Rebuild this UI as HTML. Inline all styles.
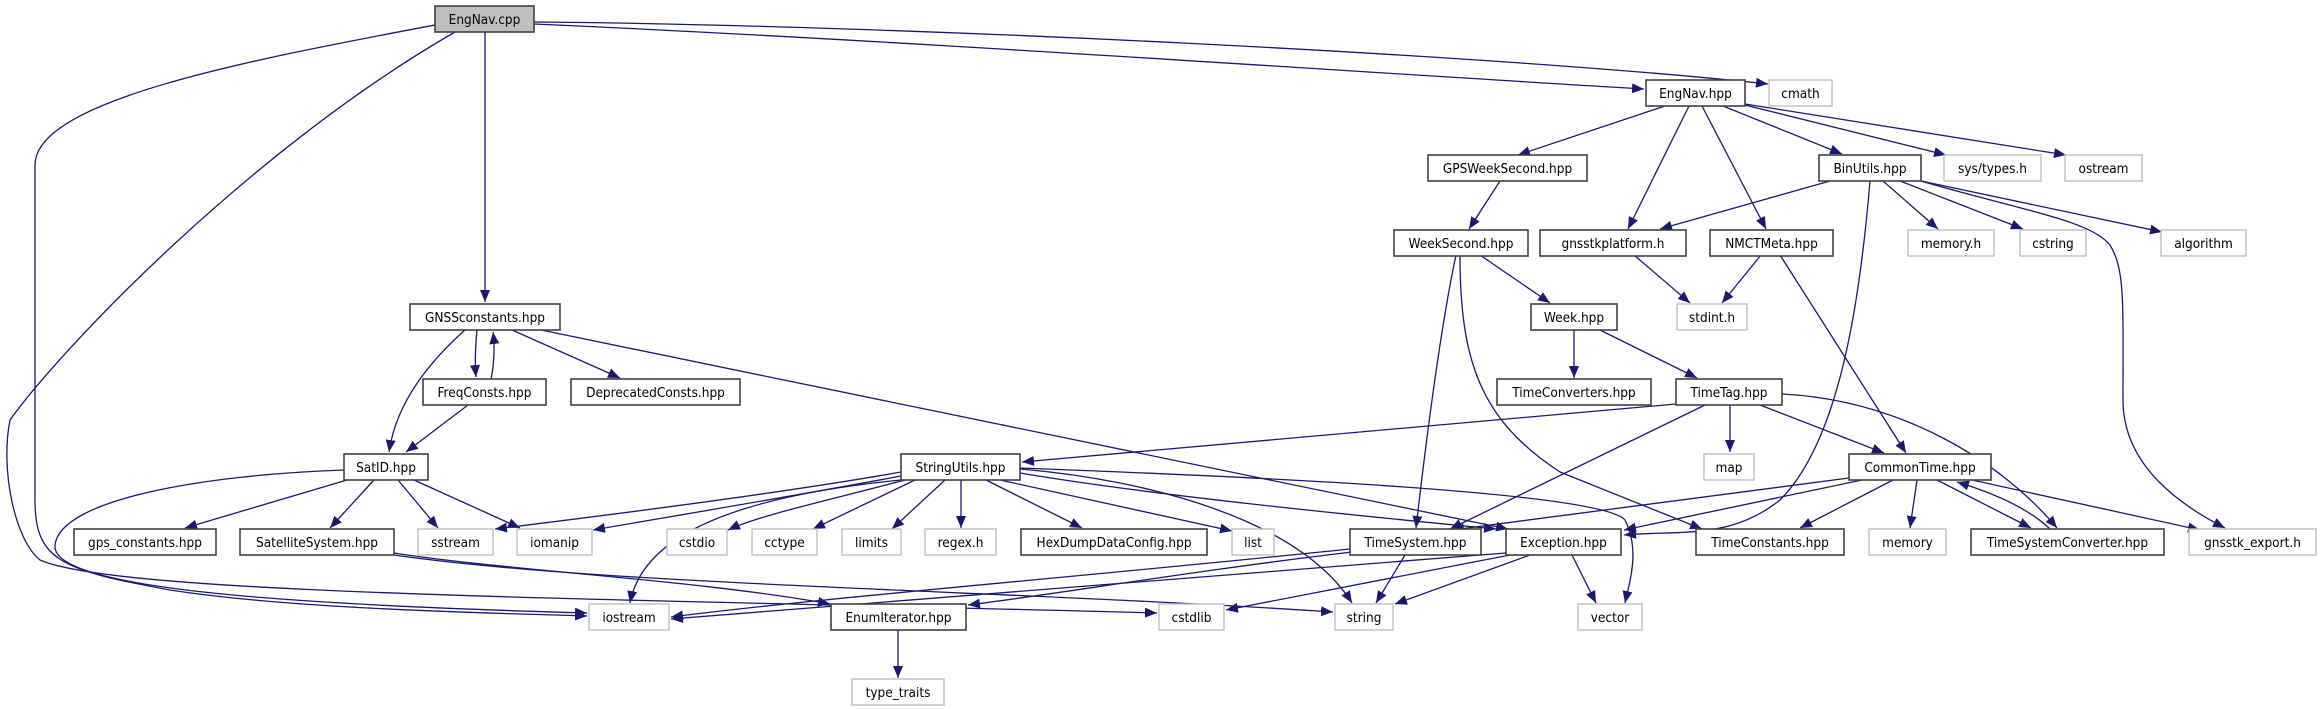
<!DOCTYPE html>
<html><head><meta charset="utf-8"><style>
html,body{margin:0;padding:0;background:#fff;}
svg{display:block;}
text{font-family:"DejaVu Sans Condensed","Liberation Sans",sans-serif;font-size:13.5px;text-anchor:middle;fill:#000;}
.b{fill:#fff;stroke:#404040;stroke-width:1.6;}
.g{fill:#fff;stroke:#bfbfbf;stroke-width:1.4;}
.e{fill:none;stroke:#191970;stroke-width:1.3;marker-end:url(#a);}
</style></head><body>
<svg width="2322" height="709" viewBox="0 0 2322 709" xmlns="http://www.w3.org/2000/svg">
<defs><marker id="a" markerUnits="userSpaceOnUse" markerWidth="14" markerHeight="10" refX="12" refY="5" orient="auto"><path d="M0,0 L12,5 L0,10 Z" fill="#191970"/></marker></defs>
<path class="e" d="M534,22 C900,25 1500,55 1768,84"/>
<path class="e" d="M534,24 C900,40 1400,75 1644,89"/>
<path class="e" d="M485,32 L485,302"/>
<path class="e" d="M435,25 C250,60 35,100 35,165 L35,500 C35,560 60,570 170,590 C300,610 500,613 587,616"/>
<path class="e" d="M455,32 C250,150 60,350 10,420 C0,470 15,540 40,560 C120,595 600,598 1157,613"/>
<path class="e" d="M465,330 C420,370 395,410 389,452"/>
<path class="e" d="M477,330 C475,350 475,365 476,377"/>
<path class="e" d="M491,379 C494,365 495,350 493,332"/>
<path class="e" d="M512,330 L620,378"/>
<path class="e" d="M541,330 L1508,529"/>
<path class="e" d="M468,405 L406,452"/>
<path class="e" d="M347,480 L185,528"/>
<path class="e" d="M374,480 L330,528"/>
<path class="e" d="M398,480 L438,528"/>
<path class="e" d="M414,480 L520,528"/>
<path class="e" d="M344,470 C200,475 60,500 55,545 C50,590 300,605 587,613"/>
<path class="e" d="M394,553 C500,570 700,580 830,604"/>
<path class="e" d="M394,555 C600,585 1000,590 1333,612"/>
<path class="e" d="M901,472 C800,490 650,510 495,529"/>
<path class="e" d="M901,476 C800,495 680,515 593,530"/>
<path class="e" d="M905,480 C830,500 760,515 728,530"/>
<path class="e" d="M915,480 L813,529"/>
<path class="e" d="M945,480 L892,529"/>
<path class="e" d="M961,480 L961,528"/>
<path class="e" d="M986,480 L1082,528"/>
<path class="e" d="M1000,480 L1232,531"/>
<path class="e" d="M1020,473 C1150,495 1350,515 1496,529"/>
<path class="e" d="M1020,469 C1150,480 1300,520 1352,603"/>
<path class="e" d="M1020,468 C1200,475 1600,490 1625,520 C1640,550 1630,580 1625,603"/>
<path class="e" d="M901,480 C700,500 640,550 630,603"/>
<path class="e" d="M1676,404 L1022,462"/>
<path class="e" d="M1705,405 L1450,529"/>
<path class="e" d="M1730,405 L1730,452"/>
<path class="e" d="M1760,405 L1884,453"/>
<path class="e" d="M1782,394 C1900,400 2000,460 2057,528"/>
<path class="e" d="M1456,255 C1440,330 1425,450 1416,528"/>
<path class="e" d="M1460,255 C1460,360 1480,420 1560,472 L1702,529"/>
<path class="e" d="M1480,255 L1550,303"/>
<path class="e" d="M1500,181 L1469,229"/>
<path class="e" d="M1574,330 L1574,378"/>
<path class="e" d="M1600,330 L1697,378"/>
<path class="e" d="M1665,106 L1518,155"/>
<path class="e" d="M1689,106 L1628,229"/>
<path class="e" d="M1702,106 L1766,229"/>
<path class="e" d="M1723,106 L1842,154"/>
<path class="e" d="M1745,105 L1946,155"/>
<path class="e" d="M1745,104 L2066,155"/>
<path class="e" d="M1830,181 L1660,229"/>
<path class="e" d="M1883,181 L1938,229"/>
<path class="e" d="M1900,181 L2023,229"/>
<path class="e" d="M1921,181 L2162,232"/>
<path class="e" d="M1921,181 C2020,210 2090,220 2110,245 C2125,270 2123,300 2123,400 C2123,460 2170,500 2225,528"/>
<path class="e" d="M1870,181 C1860,300 1840,440 1780,500 C1730,540 1680,530 1624,535"/>
<path class="e" d="M1634,255 L1690,303"/>
<path class="e" d="M1761,255 L1722,303"/>
<path class="e" d="M1780,255 L1906,453"/>
<path class="e" d="M1849,478 L1452,530"/>
<path class="e" d="M1862,480 L1624,530"/>
<path class="e" d="M1893,480 L1800,528"/>
<path class="e" d="M1917,480 L1910,528"/>
<path class="e" d="M1937,480 L2031,528"/>
<path class="e" d="M2050,529 C2030,510 2000,495 1957,482"/>
<path class="e" d="M1972,480 L2200,530"/>
<path class="e" d="M1350,549 C1100,575 800,600 671,617"/>
<path class="e" d="M1352,552 C1200,570 1050,595 968,605"/>
<path class="e" d="M1405,555 L1376,603"/>
<path class="e" d="M1506,553 C1300,570 900,600 671,619"/>
<path class="e" d="M1510,555 L1226,610"/>
<path class="e" d="M1530,555 L1395,604"/>
<path class="e" d="M1572,555 L1596,603"/>
<path class="e" d="M898,630 L898,678"/>
<rect x="435" y="6" width="99" height="26" fill="#bfbfbf" stroke="#404040" stroke-width="1.6"/><text x="484.5" y="24">EngNav.cpp</text>
<rect class="g" x="1769" y="80" width="63" height="26"/><text x="1800.5" y="98">cmath</text>
<rect class="b" x="1646" y="80" width="99" height="26"/><text x="1695.5" y="98">EngNav.hpp</text>
<rect class="b" x="410" y="304" width="150" height="26"/><text x="485" y="322">GNSSconstants.hpp</text>
<rect class="b" x="1428" y="155" width="159" height="26"/><text x="1507.5" y="173">GPSWeekSecond.hpp</text>
<rect class="b" x="1819" y="155" width="102" height="26"/><text x="1870" y="173">BinUtils.hpp</text>
<rect class="g" x="1944" y="155" width="97" height="26"/><text x="1992.5" y="173">sys/types.h</text>
<rect class="g" x="2065" y="155" width="77" height="26"/><text x="2103.5" y="173">ostream</text>
<rect class="b" x="1394" y="230" width="134" height="26"/><text x="1461" y="248">WeekSecond.hpp</text>
<rect class="b" x="1540" y="230" width="146" height="26"/><text x="1613" y="248">gnsstkplatform.h</text>
<rect class="b" x="1710" y="230" width="123" height="26"/><text x="1771.5" y="248">NMCTMeta.hpp</text>
<rect class="g" x="1908" y="230" width="86" height="26"/><text x="1951" y="248">memory.h</text>
<rect class="g" x="2020" y="230" width="66" height="26"/><text x="2053" y="248">cstring</text>
<rect class="g" x="2161" y="230" width="85" height="26"/><text x="2203.5" y="248">algorithm</text>
<rect class="b" x="1531" y="304" width="86" height="26"/><text x="1574" y="322">Week.hpp</text>
<rect class="g" x="1677" y="304" width="70" height="26"/><text x="1712" y="322">stdint.h</text>
<rect class="b" x="423" y="379" width="123" height="26"/><text x="484.5" y="397">FreqConsts.hpp</text>
<rect class="b" x="571" y="379" width="169" height="26"/><text x="655.5" y="397">DeprecatedConsts.hpp</text>
<rect class="b" x="1497" y="379" width="154" height="26"/><text x="1574" y="397">TimeConverters.hpp</text>
<rect class="b" x="1676" y="379" width="106" height="26"/><text x="1729" y="397">TimeTag.hpp</text>
<rect class="b" x="344" y="454" width="84" height="26"/><text x="386" y="472">SatID.hpp</text>
<rect class="b" x="901" y="454" width="119" height="26"/><text x="960.5" y="472">StringUtils.hpp</text>
<rect class="g" x="1704" y="454" width="50" height="26"/><text x="1729" y="472">map</text>
<rect class="b" x="1849" y="454" width="142" height="26"/><text x="1920" y="472">CommonTime.hpp</text>
<rect class="b" x="74" y="529" width="142" height="26"/><text x="145" y="547">gps_constants.hpp</text>
<rect class="b" x="240" y="529" width="154" height="26"/><text x="317" y="547">SatelliteSystem.hpp</text>
<rect class="g" x="418" y="529" width="75" height="26"/><text x="455.5" y="547">sstream</text>
<rect class="g" x="517" y="529" width="75" height="26"/><text x="554.5" y="547">iomanip</text>
<rect class="g" x="667" y="529" width="60" height="26"/><text x="697" y="547">cstdio</text>
<rect class="g" x="752" y="529" width="65" height="26"/><text x="784.5" y="547">cctype</text>
<rect class="g" x="842" y="529" width="59" height="26"/><text x="871.5" y="547">limits</text>
<rect class="g" x="925" y="529" width="71" height="26"/><text x="960.5" y="547">regex.h</text>
<rect class="b" x="1021" y="529" width="186" height="26"/><text x="1114" y="547">HexDumpDataConfig.hpp</text>
<rect class="g" x="1232" y="529" width="42" height="26"/><text x="1253" y="547">list</text>
<rect class="b" x="1350" y="529" width="131" height="26"/><text x="1415.5" y="547">TimeSystem.hpp</text>
<rect class="b" x="1506" y="529" width="115" height="26"/><text x="1563.5" y="547">Exception.hpp</text>
<rect class="b" x="1696" y="529" width="148" height="26"/><text x="1770" y="547">TimeConstants.hpp</text>
<rect class="g" x="1869" y="529" width="77" height="26"/><text x="1907.5" y="547">memory</text>
<rect class="b" x="1971" y="529" width="193" height="26"/><text x="2067.5" y="547">TimeSystemConverter.hpp</text>
<rect class="g" x="2189" y="529" width="127" height="26"/><text x="2252.5" y="547">gnsstk_export.h</text>
<rect class="g" x="589" y="604" width="80" height="26"/><text x="629" y="622">iostream</text>
<rect class="b" x="831" y="604" width="135" height="26"/><text x="898.5" y="622">EnumIterator.hpp</text>
<rect class="g" x="1159" y="604" width="65" height="26"/><text x="1191.5" y="622">cstdlib</text>
<rect class="g" x="1335" y="604" width="58" height="26"/><text x="1364" y="622">string</text>
<rect class="g" x="1578" y="604" width="64" height="26"/><text x="1610" y="622">vector</text>
<rect class="g" x="852" y="679" width="92" height="26"/><text x="898" y="697">type_traits</text>
</svg>
</body></html>
